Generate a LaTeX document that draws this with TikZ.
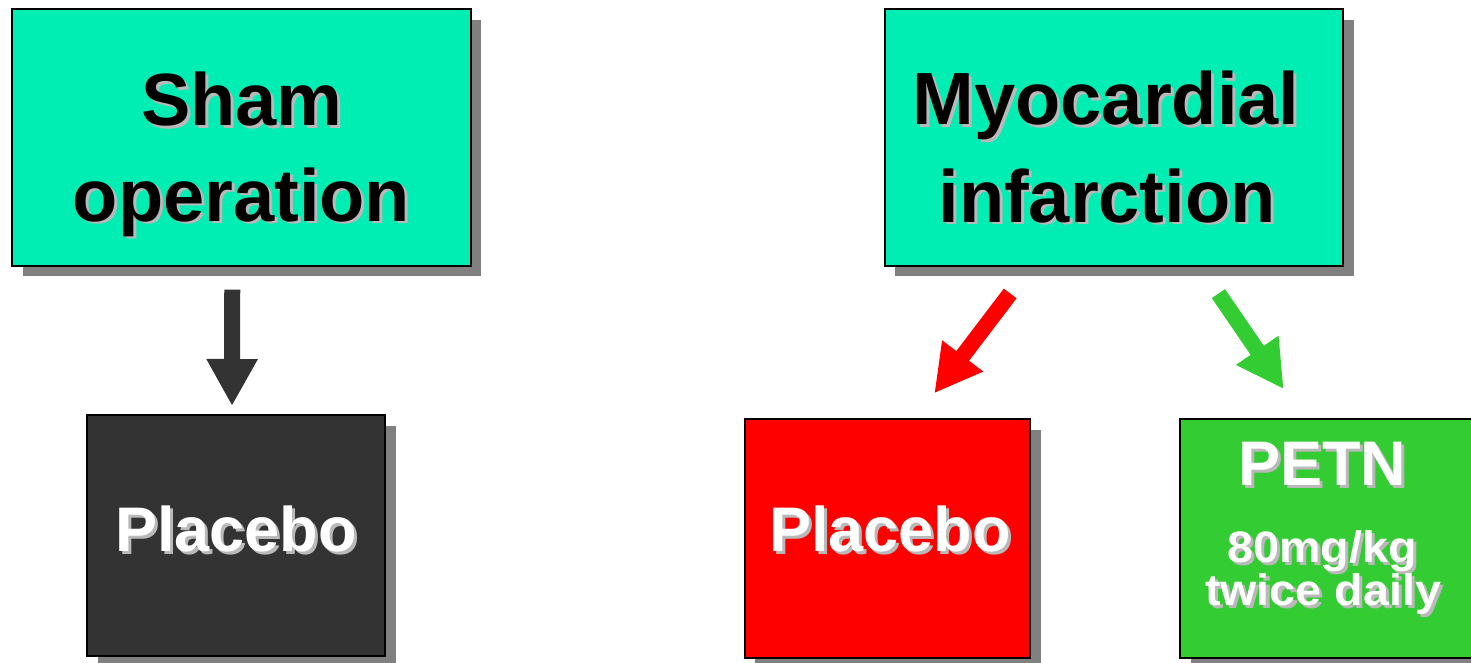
\documentclass[tikz,border=0pt]{standalone}
\usepackage{fontspec}
\setmainfont{Liberation Sans}
\usetikzlibrary{arrows.meta,shadows}

\definecolor{mint}{RGB}{0,238,180}
\definecolor{darkbox}{RGB}{51,51,51}
\definecolor{petngreen}{RGB}{51,204,51}
\definecolor{boxshade}{RGB}{128,128,128}
\definecolor{textshade}{RGB}{185,185,185}

\newcommand{\shadowed}[1]{\rlap{\hspace{1.5pt}\raisebox{-1.5pt}{\color{textshade}#1}}#1}
\newcommand{\widetxt}[1]{\scalebox{1.06}[1]{\shadowed{#1}}}

\tikzset{
  box/.style={draw=black, line width=1pt, inner sep=0pt,
    drop shadow={shadow xshift=5.25pt, shadow yshift=-5.25pt, fill=boxshade, opacity=1}},
  bigtxt/.style={anchor=base, inner sep=0pt, font=\bfseries\fontsize{37}{44}\selectfont},
  midtxt/.style={anchor=base, inner sep=0pt, text=white, font=\bfseries\fontsize{31.5}{38}\selectfont},
  smalltxt/.style={anchor=base, inner sep=0pt, text=white, font=\bfseries\fontsize{22}{26}\selectfont},
  fatarrow/.style={line width=8pt, -{Triangle[width=24pt,length=23.5pt]}},
}

\begin{document}
\begin{tikzpicture}[x=0.5pt, y=-0.5pt]
	\useasboundingbox (0,0) rectangle (1471,663);
	\node[box, fill=mint, minimum width=229.3pt, minimum height=128.2pt] (sham) at (241.3,137.5) {};
	\node[box, fill=mint, minimum width=229.3pt, minimum height=128.2pt] (mi) at (1114,137.5) {};
	\node[box, fill=darkbox, minimum width=149pt, minimum height=120.5pt] (plbk) at (236,535.5) {};
	\node[box, fill=red, minimum width=142.6pt, minimum height=119.5pt] (plred) at (887.5,538.5) {};
	\node[box, fill=petngreen, minimum width=150pt, minimum height=119.5pt] (petn) at (1330,538.5) {};
	\node[bigtxt] (shamA) at (242,126) {\shadowed{Sham}};
	\node[bigtxt] (shamB) at (241.5,221) {\shadowed{operation}};
	\node[bigtxt] (miA) at (1106,125) {\shadowed{Myocardial}};
	\node[bigtxt] (miB) at (1107,222) {\shadowed{infarction}};
	\node[midtxt] (plbkA) at (236,551) {\shadowed{Placebo}};
	\node[midtxt] (plredA) at (890,551) {\shadowed{Placebo}};
	\node[midtxt] (petnA) at (1322,485) {\shadowed{PETN}};
	\node[smalltxt] (petnB) at (1322,562) {\widetxt{80mg/kg}};
	\node[smalltxt] (petnC) at (1323,605) {\widetxt{twice daily}};
	\draw[fatarrow, draw=darkbox, shorten <=11.5pt, shorten >=4pt] ([xshift=-4.5pt]sham.south) -- ([xshift=-2pt]plbk.north);
	\draw[fatarrow, draw=red, shorten <=16.8pt, shorten >=15.5pt] ([xshift=-41.75pt]mi.south) -- ([xshift=14pt]plred.north);
	\draw[fatarrow, draw=petngreen, shorten <=16.3pt, shorten >=17.5pt] ([xshift=43pt]mi.south) -- ([xshift=-13.25pt]petn.north);
\end{tikzpicture}
\end{document}
